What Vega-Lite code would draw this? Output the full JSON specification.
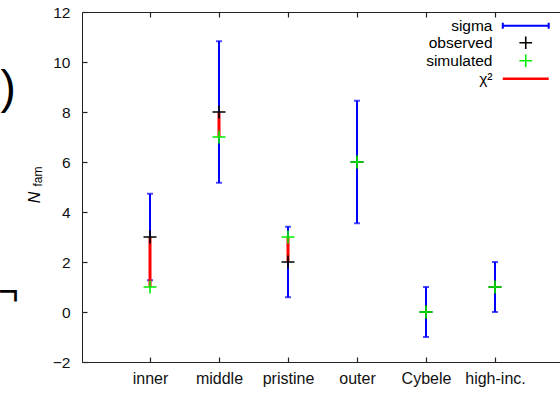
{
  "$schema": "https://vega.github.io/schema/vega-lite/v6.json",
  "width": 478,
  "height": 350,
  "autosize": {"type": "none"},
  "padding": {"left": 82, "top": 12, "right": 0, "bottom": 31},
  "background": "white",
  "title": {
    "text": "━┓", "font": "DejaVu Sans", "fontSize": 17, "fontWeight": "normal", "color": "#000000",
    "anchor": "start", "frame": "group", "align": "left", "baseline": "alphabetic",
    "offset": 0, "dx": -82, "dy": 309
  },
  "config": {
    "view": {"stroke": null},
    "font": "Liberation Sans",
    "axis": {
      "grid": false,
      "domainColor": "#222222",
      "domainWidth": 1,
      "tickColor": "#222222",
      "tickWidth": 1.2,
      "tickSize": -5,
      "labelFont": "Liberation Sans",
      "labelFontSize": 16,
      "labelColor": "#111111",
      "titleFont": "Liberation Sans",
      "titleFontWeight": "normal",
      "titleColor": "#000000"
    },
    "legend": {
      "labelFont": "Liberation Sans",
      "labelFontSize": 15.5,
      "labelColor": "#000000"
    }
  },
  "data": {
    "values": [
      {"family": "inner", "observed": 3, "simulated": 1, "lo": 1.27, "hi": 4.73},
      {"family": "middle", "observed": 8, "simulated": 7, "lo": 5.17, "hi": 10.83},
      {"family": "pristine", "observed": 2, "simulated": 3, "lo": 0.59, "hi": 3.41},
      {"family": "outer", "observed": 6, "simulated": 6, "lo": 3.55, "hi": 8.45},
      {"family": "Cybele", "observed": 0, "simulated": 0, "lo": -1, "hi": 1},
      {"family": "high-inc.", "observed": 1, "simulated": 1, "lo": 0, "hi": 2}
    ]
  },
  "layer": [
    {
      "mark": {"type": "rule", "strokeWidth": 2},
      "encoding": {
        "x": {
          "field": "family", "type": "nominal", "sort": null,
          "scale": {"type": "point", "padding": 0.9638, "align": 0.5113},
          "axis": {
            "orient": "bottom", "labelAngle": 0, "labelPadding": 13, "tickSize": -5,
            "title": ")", "titleFontSize": 46, "titleAngle": 0,
            "titleX": -82, "titleY": -260, "titleAlign": "left", "titleBaseline": "alphabetic",
            "encode": {
              "labels": {
                "update": {
                  "dx": {"signal": "datum.label === 'inner' ? -2 : datum.label === 'middle' ? 4 : datum.label === 'pristine' ? 6 : datum.label === 'outer' ? 5 : datum.label === 'Cybele' ? 6 : 10"}
                }
              }
            }
          }
        },
        "y": {
          "field": "lo", "type": "quantitative",
          "scale": {"domain": [-2, 12], "nice": false, "zero": false},
          "axis": {
            "values": [-2, 0, 2, 4, 6, 8, 10, 12], "labelPadding": 17, "labelFontSize": 15.5, "tickSize": -5,
            "title": "N", "titleFontStyle": "italic", "titleFontSize": 16,
            "titleAngle": 270, "titleX": -48, "titleY": 185,
            "titleAlign": "center", "titleBaseline": "middle"
          }
        },
        "y2": {"field": "hi"},
        "color": {
          "datum": "sigma", "type": "nominal",
          "scale": {
            "domain": ["sigma", "observed", "simulated", "χ²"],
            "range": ["#0000ff", "#000000", "#00ee00", "#ff0000"]
          },
          "legend": {
            "orient": "none", "legendX": 436, "legendY": 6,
            "title": null, "symbolSize": 196, "rowPadding": -2,
            "labelAlign": "right", "labelOffset": -41,
            "encode": {
              "symbols": {
                "update": {
                  "shape": {"signal": "datum.value === 'sigma' ? 'M-3.28,0H3.28M-3.28,-0.42V0.42M3.28,-0.42V0.42' : datum.value === 'χ²' ? 'M-3.28,0H3.28' : 'M-0.91,0H0.91M0,-0.91V0.91'"},
                  "stroke": {"signal": "scale('color', datum.value)"},
                  "strokeWidth": {"signal": "datum.value === 'χ²' ? 2.5 : datum.value === 'sigma' ? 2 : 1.6"},
                  "fill": {"value": "transparent"}
                }
              }
            }
          }
        }
      }
    },
    {
      "mark": {"type": "tick", "orient": "horizontal", "size": 6, "thickness": 2},
      "encoding": {
        "x": {"field": "family", "type": "nominal", "sort": null, "axis": null},
        "y": {
          "field": "lo", "type": "quantitative",
          "scale": {"domain": [-2, 12], "nice": false, "zero": false},
          "axis": {
            "values": [-2, 0, 2, 4, 6, 8, 10, 12], "labelPadding": 17, "labelFontSize": 15.5, "tickSize": -5,
            "title": "N", "titleFontStyle": "italic", "titleFontSize": 16,
            "titleAngle": 270, "titleX": -48, "titleY": 185,
            "titleAlign": "center", "titleBaseline": "middle"
          }
        },
        "color": {"datum": "sigma", "type": "nominal"}
      }
    },
    {
      "mark": {"type": "tick", "orient": "horizontal", "size": 6, "thickness": 2},
      "encoding": {
        "x": {
          "field": "family", "type": "nominal", "sort": null,
          "axis": {
            "orient": "top", "labels": false, "tickSize": -5,
            "title": "fam", "titleFontSize": 12, "titleAngle": 270,
            "titleX": -45, "titleY": 164, "titleAlign": "center", "titleBaseline": "middle"
          }
        },
        "y": {
          "field": "hi", "type": "quantitative",
          "scale": {"domain": [-2, 12], "nice": false, "zero": false},
          "axis": {
            "values": [-2, 0, 2, 4, 6, 8, 10, 12], "labelPadding": 17, "labelFontSize": 15.5, "tickSize": -5,
            "title": "N", "titleFontStyle": "italic", "titleFontSize": 16,
            "titleAngle": 270, "titleX": -48, "titleY": 185,
            "titleAlign": "center", "titleBaseline": "middle"
          }
        },
        "color": {"datum": "sigma", "type": "nominal"}
      }
    },
    {
      "mark": {"type": "rule", "strokeWidth": 3},
      "encoding": {
        "x": {"field": "family", "type": "nominal", "sort": null, "axis": null},
        "y": {
          "field": "observed", "type": "quantitative",
          "scale": {"domain": [-2, 12], "nice": false, "zero": false},
          "axis": {
            "values": [-2, 0, 2, 4, 6, 8, 10, 12], "labelPadding": 17, "labelFontSize": 15.5, "tickSize": -5,
            "title": "N", "titleFontStyle": "italic", "titleFontSize": 16,
            "titleAngle": 270, "titleX": -48, "titleY": 185,
            "titleAlign": "center", "titleBaseline": "middle"
          }
        },
        "y2": {"field": "simulated"},
        "color": {"datum": "χ²", "type": "nominal"}
      }
    },
    {
      "mark": {"type": "point", "shape": "M-1,0H1M0,-1V1", "size": 169, "filled": false, "strokeWidth": 1.6, "opacity": 1},
      "encoding": {
        "x": {"field": "family", "type": "nominal", "sort": null, "axis": null},
        "y": {
          "field": "observed", "type": "quantitative",
          "scale": {"domain": [-2, 12], "nice": false, "zero": false},
          "axis": {
            "values": [-2, 0, 2, 4, 6, 8, 10, 12], "labelPadding": 17, "labelFontSize": 15.5, "tickSize": -5,
            "title": "N", "titleFontStyle": "italic", "titleFontSize": 16,
            "titleAngle": 270, "titleX": -48, "titleY": 185,
            "titleAlign": "center", "titleBaseline": "middle"
          }
        },
        "color": {"datum": "observed", "type": "nominal"}
      }
    },
    {
      "mark": {"type": "point", "shape": "M-1,0H1M0,-1V1", "size": 169, "filled": false, "strokeWidth": 1.6, "opacity": 1},
      "encoding": {
        "x": {"field": "family", "type": "nominal", "sort": null, "axis": null},
        "y": {
          "field": "simulated", "type": "quantitative",
          "scale": {"domain": [-2, 12], "nice": false, "zero": false},
          "axis": {
            "values": [-2, 0, 2, 4, 6, 8, 10, 12], "labelPadding": 17, "labelFontSize": 15.5, "tickSize": -5,
            "title": "N", "titleFontStyle": "italic", "titleFontSize": 16,
            "titleAngle": 270, "titleX": -48, "titleY": 185,
            "titleAlign": "center", "titleBaseline": "middle"
          }
        },
        "color": {"datum": "simulated", "type": "nominal"}
      }
    }
  ],
  "resolve": {"axis": {"x": "independent"}}
}
